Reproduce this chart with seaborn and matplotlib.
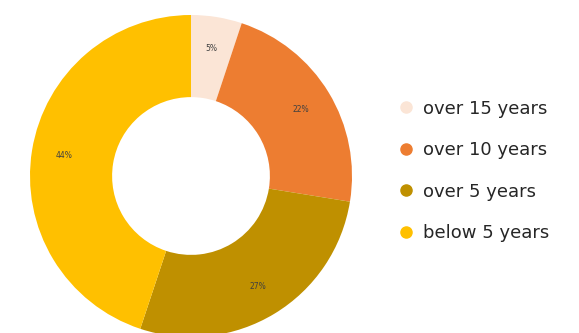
import matplotlib
matplotlib.use("Agg")
import matplotlib.pyplot as plt
from matplotlib.lines import Line2D
import seaborn as sns

categories = ["over 15 years", "over 10 years", "over 5 years", "below 5 years"]
values = [5, 22, 27, 44]
colors = ["#FBE5D6", "#ED7D31", "#BF9000", "#FFC000"]

sns.set_theme(style="white")
plt.rcParams['font.family'] = ['DejaVu Sans']

fig = plt.figure(figsize=(5.79, 3.33), dpi=100)
ax = fig.add_axes([30/579, (333-176-161)/333, 322/579, 322/333])
palette = sns.color_palette(colors)
wedges, texts = ax.pie(values, colors=palette, startangle=90, counterclock=False,
                       wedgeprops=dict(width=0.51, linewidth=0),
                       labels=[f"{v}%" for v in values], labeldistance=0.8)
for t in texts:
    t.set_ha("center"); t.set_va("center")
    t.set_fontsize(5.5); t.set_color("#404040")
ax.set_xlim(-1, 1); ax.set_ylim(-1, 1)
ax.set_aspect("equal")

handles = [Line2D([0], [0], marker="o", linestyle="", markersize=8,
                  markerfacecolor=c, markeredgecolor=c) for c in colors]
fig.legend(handles, categories, loc="center left", bbox_to_anchor=(388/579, 1-171/333),
           frameon=False, fontsize=13, labelspacing=1.3, handletextpad=0.35,
           handlelength=1.2, labelcolor="#262626", borderaxespad=0)
fig.savefig("out.png", dpi=100)
